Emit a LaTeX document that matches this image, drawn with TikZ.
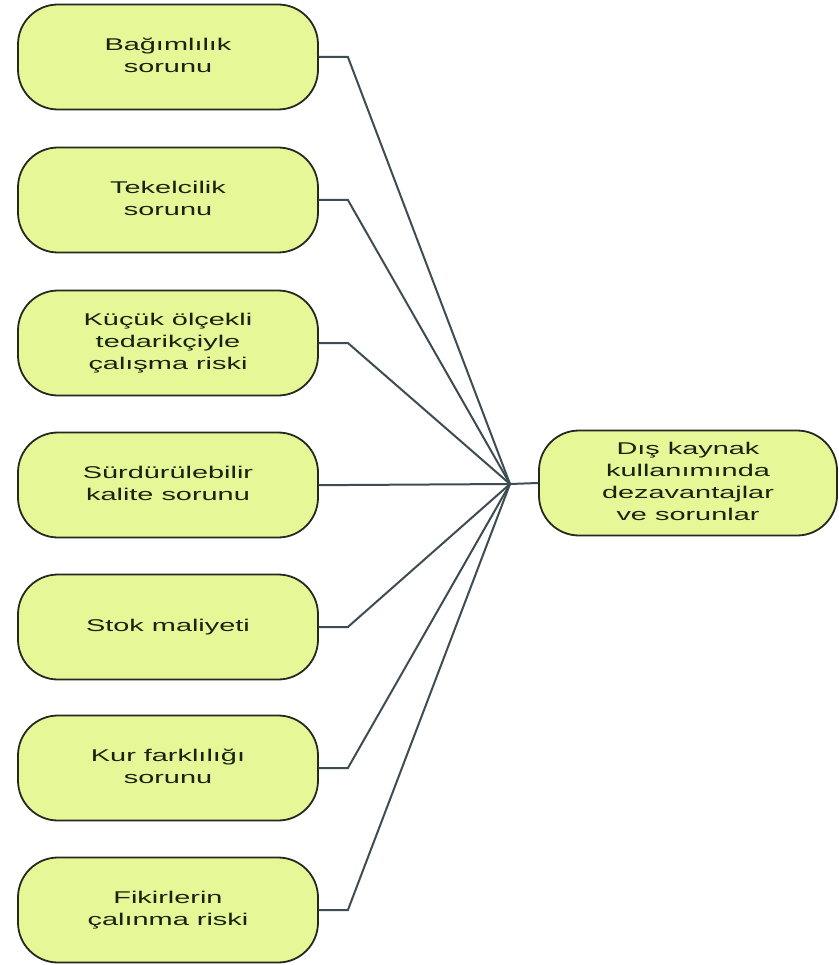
\documentclass[tikz,border=0pt]{standalone}
\usepackage{fontspec}
\setmainfont{Liberation Sans}
\usepackage{graphicx}
\definecolor{boxfill}{RGB}{230,247,152}
\definecolor{boxline}{RGB}{36,40,32}
\definecolor{linkcol}{RGB}{62,76,84}
\definecolor{txtcol}{RGB}{24,36,16}
% wide label text, several lines centred
\newcommand{\wlabel}[1]{\scalebox{1.7}[1]{\begin{tabular}{@{}c@{}}#1\end{tabular}}}
\begin{document}
\begin{tikzpicture}[x=1pt,y=-1pt,
  itembox/.style={draw=boxline, line width=1.8pt, fill=boxfill, rounded corners=40pt,
    minimum width=300pt, minimum height=105pt, inner sep=0pt,
    text=txtcol, font=\fontsize{17}{22}\selectfont},
  conn/.style={draw=linkcol, line width=2pt}]
\useasboundingbox (0,0) rectangle (838,965);
\fill[white] (0,0) rectangle (838,965);

\node[itembox] (b1) at (168,57)  {\wlabel{Bağımlılık\\sorunu}};
\node[itembox] (b2) at (168,200) {\wlabel{Tekelcilik\\sorunu}};
\node[itembox] (b3) at (168,343) {\wlabel{Küçük ölçekli\\tedarikçiyle\\çalışma riski}};
\node[itembox] (b4) at (168,485) {\wlabel{Sürdürülebilir\\kalite sorunu}};
\node[itembox] (b5) at (168,627) {\wlabel{Stok maliyeti}};
\node[itembox] (b6) at (168,768) {\wlabel{Kur farklılığı\\sorunu}};
\node[itembox] (b7) at (168,910) {\wlabel{Fikirlerin\\çalınma riski}};

\node[itembox, minimum width=298pt] (main) at (688,483)
  {\wlabel{Dış kaynak\\kullanımında\\dezavantajlar\\ve sorunlar}};

\coordinate (hub) at (510,484);

\foreach \b in {b1,b2,b3,b4,b5,b6,b7}
  \draw[conn] (\b.east) -- ++(29,0) -- (hub);
\draw[conn] (hub) -- (main.west);
\end{tikzpicture}
\end{document}
